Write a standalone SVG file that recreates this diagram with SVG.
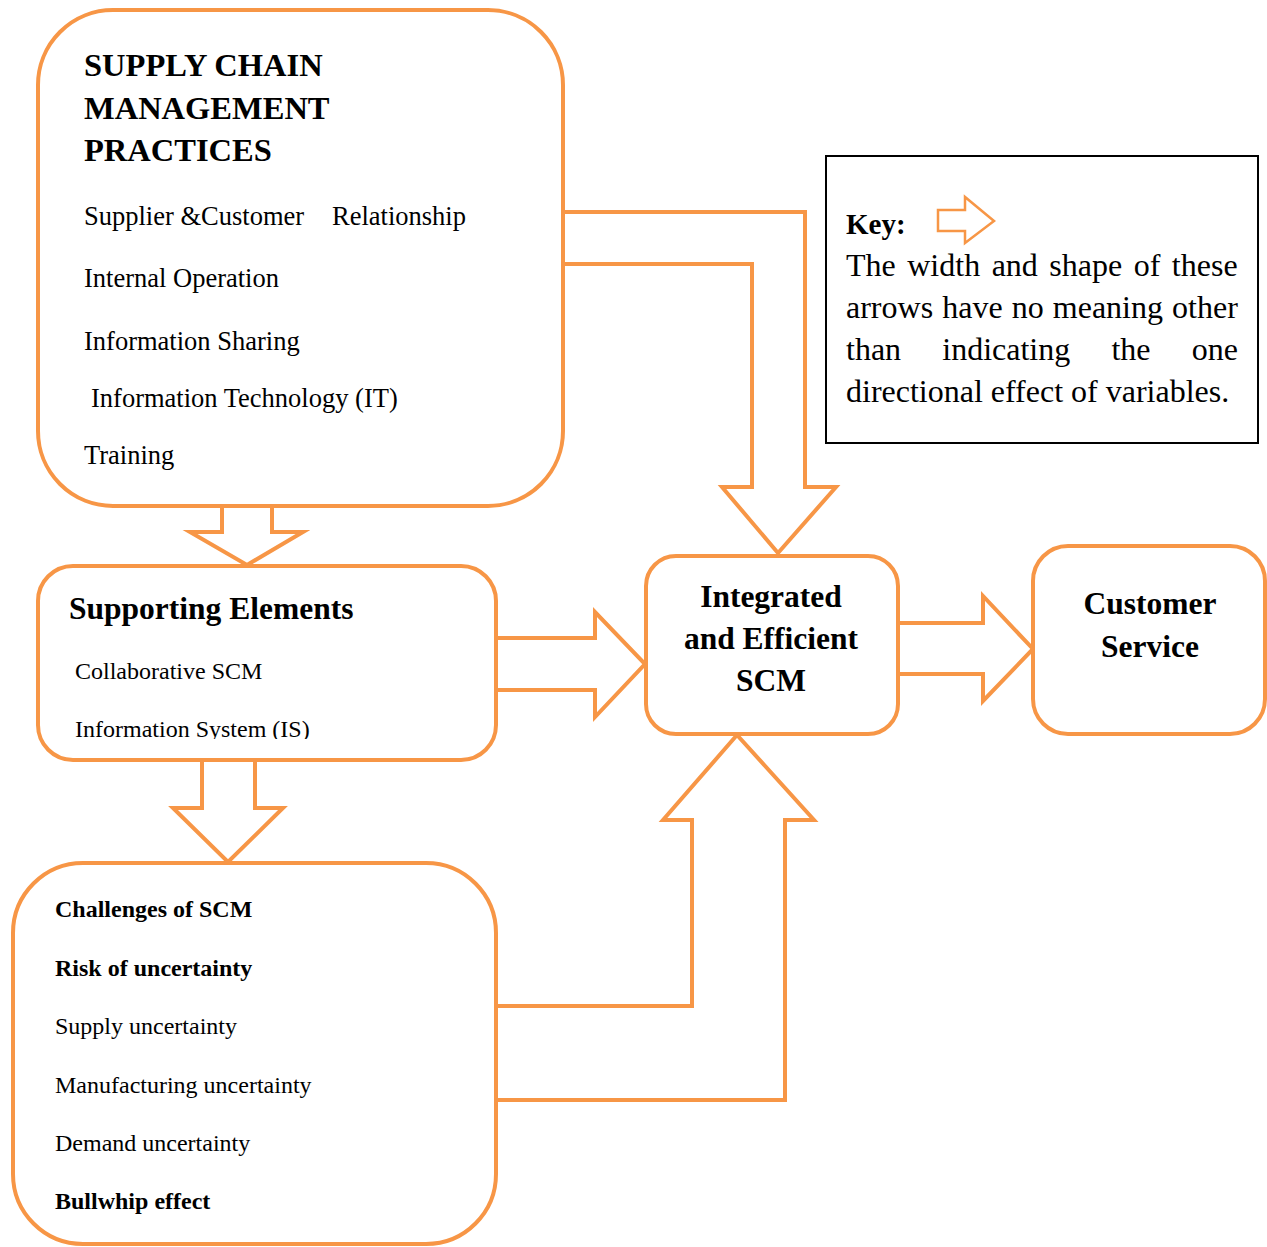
<svg xmlns="http://www.w3.org/2000/svg" width="1267" height="1247" viewBox="0 0 1267 1247">
<style>
.box{fill:#fff;stroke:#F79646;stroke-width:4}
.arr{fill:#fff;stroke:#F79646;stroke-width:4;stroke-linejoin:miter}
text{font-family:"Liberation Serif","Times New Roman",serif;fill:#000}
.t{font-size:32.5px;font-weight:bold}
.h{font-size:31.5px;font-weight:bold}
.b1{font-size:26.5px}
.b2{font-size:24px}
.b2b{font-size:24px;font-weight:bold}
.k{font-size:32px}
</style>
<defs>
<clipPath id="clipIS"><rect x="40" y="690" width="440" height="49"/></clipPath>
</defs>
<rect width="1267" height="1247" fill="#fff"/>
<g id="connectors">
<path class="arr" d="M563,212 H805 V487 H836 L778,553 L722,487 H752 V264 H563"/>
<path class="arr" d="M496,1006 H692 V820 H663 L737,735 L814,820 H785 V1100 H496"/>
<path class="arr" d="M496,638 H595 V612 L645,664 L595,717 V690 H496"/>
<path class="arr" d="M898,623 H983 V596 L1033,649 L983,701 V674 H898"/>
<path class="arr" d="M222,506 V532 H190 L247,565 L303,532 H272 V506"/>
<path class="arr" d="M202,758 V808 H173 L228,862 L283,808 H255 V758"/>
</g>
<g id="practices">
<rect class="box" x="38" y="10" width="525" height="496" rx="75" ry="75"/>
<text class="t" x="84" y="76">SUPPLY CHAIN</text>
<text class="t" x="84" y="119">MANAGEMENT</text>
<text class="t" x="84" y="161">PRACTICES</text>
<text class="b1" x="84" y="225">Supplier &amp;Customer<tspan x="332">Relationship</tspan></text>
<text class="b1" x="84" y="287">Internal Operation</text>
<text class="b1" x="84" y="350">Information Sharing</text>
<text class="b1" x="91" y="407">Information Technology (IT)</text>
<text class="b1" x="84" y="464">Training</text>
</g>
<g id="supporting">
<rect class="box" x="38" y="566" width="458" height="194" rx="35" ry="35"/>
<text class="h" x="69" y="619">Supporting Elements</text>
<text class="b2" x="75" y="679">Collaborative SCM</text>
<text class="b2" x="75" y="737" clip-path="url(#clipIS)">Information System (IS)</text>
</g>
<g id="challenges">
<rect class="box" x="13" y="863" width="483" height="381" rx="70" ry="70"/>
<text class="b2b" x="55" y="917">Challenges of SCM</text>
<text class="b2b" x="55" y="976">Risk of uncertainty</text>
<text class="b2" x="55" y="1034">Supply uncertainty</text>
<text class="b2" x="55" y="1093">Manufacturing uncertainty</text>
<text class="b2" x="55" y="1151">Demand uncertainty</text>
<text class="b2b" x="55" y="1209">Bullwhip effect</text>
</g>
<g id="integrated">
<rect class="box" x="646" y="556" width="252" height="178" rx="30" ry="30"/>
<text class="h" x="771" y="607" text-anchor="middle">Integrated</text>
<text class="h" x="771" y="649" text-anchor="middle">and Efficient</text>
<text class="h" x="771" y="691" text-anchor="middle">SCM</text>
</g>
<g id="customer">
<rect class="box" x="1033" y="546" width="232" height="188" rx="35" ry="35"/>
<text class="h" x="1150" y="614" text-anchor="middle">Customer</text>
<text class="h" x="1150" y="657" text-anchor="middle">Service</text>
</g>
<g id="key">
<rect x="826" y="156" width="432" height="287" fill="#fff" stroke="#000" stroke-width="2"/>
<text x="846" y="234" style="font-size:29px;font-weight:bold">Key:</text>
<path d="M938,210 H965 V197 L994,221 L965,243 V231 H938 Z" fill="#fff" stroke="#F79646" stroke-width="2.5"/>
<text class="k" x="846" y="276" word-spacing="3.5">The width and shape of these</text>
<text class="k" x="846" y="318" word-spacing="1.1">arrows have no meaning other</text>
<text class="k" x="846" y="360" word-spacing="33.2">than indicating the one</text>
<text class="k" x="846" y="402">directional effect of variables.</text>
</g>
</svg>
